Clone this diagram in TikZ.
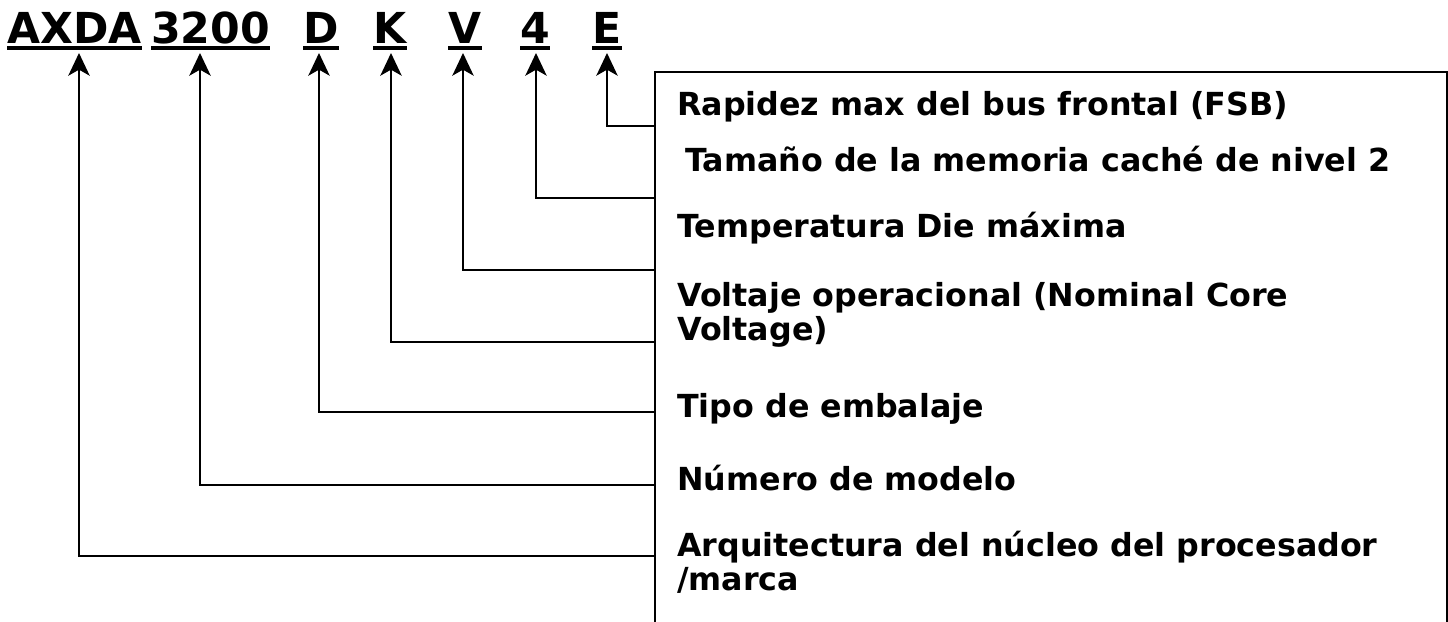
\documentclass[tikz,border=0pt]{standalone}
\usepackage{fontspec}
\setmainfont{DejaVu Sans}
\usetikzlibrary{arrows.meta}
\begin{document}
\begin{tikzpicture}[x=0.75pt,y=-0.75pt,
  tok/.style={anchor=base west,inner sep=0pt,font=\fontsize{32pt}{36pt}\selectfont\bfseries},
  ul/.style={line width=3pt},
  lab/.style={anchor=base west,inner sep=0pt,align=left,font=\fontsize{23.8pt}{25.5pt}\selectfont\bfseries},
  conn/.style={line width=1.5pt,{Stealth[length=17pt,width=16pt,inset=4.5pt]}-},
  boxst/.style={draw,line width=1.5pt,anchor=north west,inner sep=0pt,minimum width=792*0.75pt,minimum height=620*0.75pt}
]
\useasboundingbox (0,0) rectangle (1448,621);
% tokens
\node[tok] (t1) at (7,43) {AXDA};
\node[tok] (t2) at (151,43) {3200};
\node[tok] (t3) at (303,43) {D};
\node[tok] (t4) at (373,43) {K};
\node[tok] (t5) at (448,43) {V};
\node[tok] (t6) at (520,43) {4};
\node[tok] (t7) at (592,43) {E};
\foreach \t in {t1,t2,t3,t4,t5,t6,t7}{
  \draw[ul] ([yshift=-3.6pt]\t.base west) -- ([yshift=-3.6pt]\t.base east);
}
% box
\node[boxst] (box) at (654,71) {};
% labels
\node[lab] (l7) at (677,115) {Rapidez max del bus frontal (FSB)};
\node[lab] (l6) at (685,171) {Tamaño de la memoria caché de nivel 2};
\node[lab] (l5) at (677,237) {Temperatura Die máxima};
\node[lab] (l4) at (677,340) {Voltaje operacional (Nominal Core\\Voltage)};
\node[lab] (l3) at (677,417) {Tipo de embalaje};
\node[lab] (l2) at (677,490) {Número de modelo};
\node[lab] (l1) at (677,590) {Arquitectura del núcleo del procesador\\/marca};
% arrow tips and attachment points
\coordinate (a1) at (79,53);  \coordinate (h1) at (654,556);
\coordinate (a2) at (200,53); \coordinate (h2) at (654,485);
\coordinate (a3) at (319,53); \coordinate (h3) at (654,412);
\coordinate (a4) at (391,53); \coordinate (h4) at (654,342);
\coordinate (a5) at (463,53); \coordinate (h5) at (654,270);
\coordinate (a6) at (536,53); \coordinate (h6) at (654,198);
\coordinate (a7) at (607,53); \coordinate (h7) at (654,126);
\foreach \i in {1,...,7}{
  \draw[conn] (a\i) |- (h\i);
}
\end{tikzpicture}
\end{document}
